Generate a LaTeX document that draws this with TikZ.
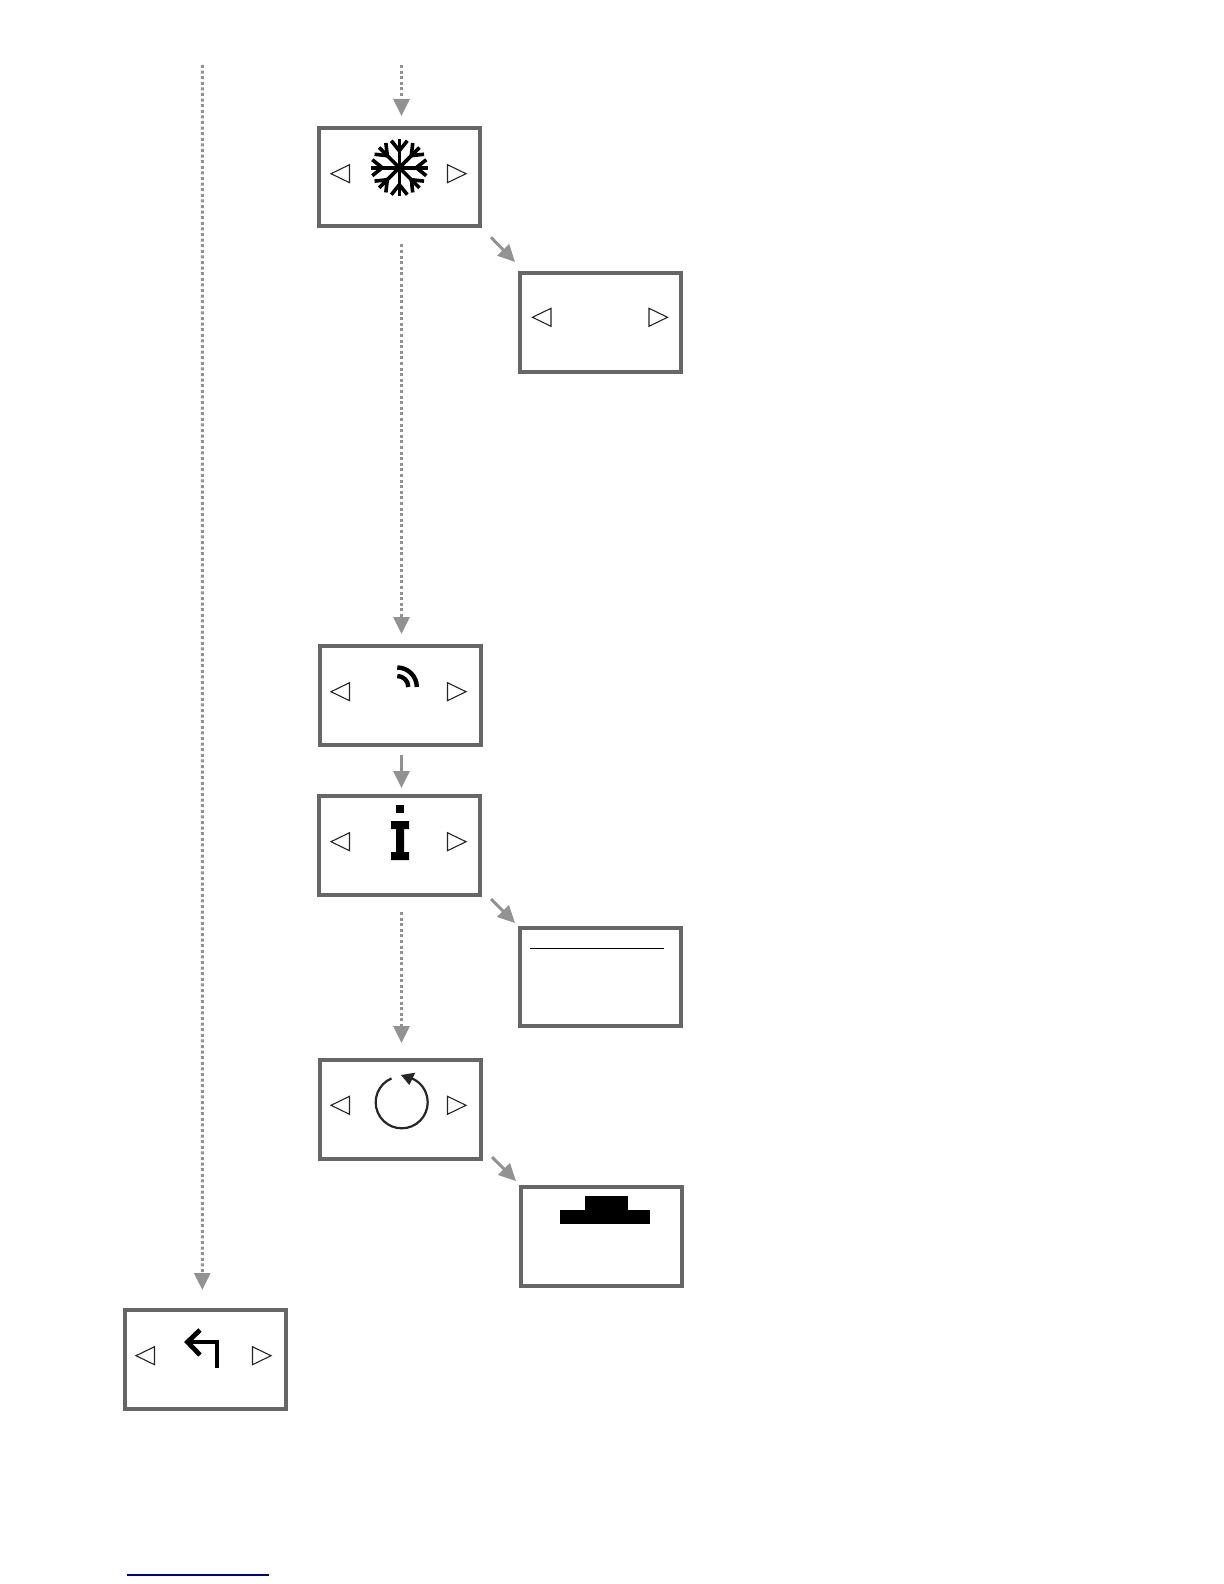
\documentclass[tikz,border=0pt]{standalone}
\usepackage{xcolor}
\usetikzlibrary{arrows.meta,positioning,calc}
\definecolor{FrameGrey}{HTML}{666666}
\definecolor{FlowGrey}{HTML}{929292}
\definecolor{TriDark}{HTML}{262626}
\definecolor{LinkNavy}{HTML}{000080}

\begin{document}
\begin{tikzpicture}[
  x=0.5pt,y=-0.5pt,
  screen/.style={draw=FrameGrey,line width=2pt,fill=white,rectangle,outer sep=0pt,inner sep=0pt,minimum width=80.5pt,minimum height=49.5pt},
  flow/.style={draw=FlowGrey,line width=1.5pt,-{Triangle[length=8.5pt,width=8pt,fill=FlowGrey]}},
  dotflow/.style={flow,dash pattern=on 1.5pt off 1.3pt},
  tri/.style={draw=TriDark,line width=0.55pt,line join=miter,fill=white},
  icon/.style={draw=black,line width=1.8pt}
]
\useasboundingbox (0,0) rectangle (1224,1584);
\node[screen,minimum height=48.9pt] (snow) at (399.5,176.9) {};
\node[screen] (wifi) at (400.5,695.5) {};
\node[screen] (info) at (399.5,845.5) {};
\node[screen] (reset) at (400.5,1109.5) {};
\node[screen] (back) at (205.5,1359.5) {};
\node[screen] (side) at (600.5,322.5) {};
\node[screen,minimum height=49pt] (rule) at (600.5,976.7) {};
\node[screen] (base) at (601.5,1236.5) {};
\coordinate (topin) at (401.5,65);
\coordinate (leftin) at (202.3,65);
\foreach \n/\dx/\dy in {snow/0/-3.2,side/0.5/-5.2,wifi/-1/-3.8,info/0/-3.8,reset/-1/-4.2,back/-1/-3.8}{
  \draw[tri] ([shift={(\dx-68.5,\dy)}]\n.center) -- ([shift={(\dx-50,\dy-9)}]\n.center) -- ([shift={(\dx-50,\dy+9)}]\n.center) -- cycle;
  \draw[tri] ([shift={(\dx+66.5,\dy)}]\n.center) -- ([shift={(\dx+48,\dy-9)}]\n.center) -- ([shift={(\dx+48,\dy+9)}]\n.center) -- cycle;
}
\draw[dotflow] (topin) -- ([shift={(2,-12)}]snow.north);
\draw[dotflow] (leftin) -- ([shift={(-3.2,-20)}]back.north);
\draw[dotflow] ([shift={(2,18.5)}]snow.south) -- ([shift={(1,-12)}]wifi.north);
\draw[flow] ([shift={(1,9.5)}]wifi.south) -- ([shift={(2,-8)}]info.north);
\draw[dotflow] ([shift={(2,17)}]info.south) -- ([shift={(1,-17)}]reset.north);
\draw[flow] ([shift={(11,11.5)}]snow.south east) -- ([shift={(-5,-11)}]side.north west);
\draw[flow] ([shift={(11,4)}]info.south east) -- ([shift={(-5,-4.7)}]rule.north west);
\draw[flow] ([shift={(11,-2)}]reset.south east) -- ([shift={(-5,-6)}]base.north west);
\foreach \a in {0,45,...,315}{
  \begin{scope}[shift={(399.3,167.7)},rotate=\a]
    \draw[icon] (0,0) -- (0,-28.5);
    \draw[icon] (-8,-27) -- (0,-17) -- (8,-27);
  \end{scope}
}
\draw[icon,line width=2.2pt] (397.3,667.5) arc (-90:0:19.5);
\draw[icon,line width=2.2pt] (397.3,676) arc (-90:0:11);
\fill[black] (396,805) rectangle (404,813);
\fill[black] (391,821) -- (409,821) -- (409,829) -- (404,829) -- (404,852) -- (409,852) -- (409,860) -- (391,860) -- (391,852) -- (396,852) -- (396,829) -- (391,829) -- cycle;
\draw[black,line width=0.6pt] (530,948.3) -- (664,948.3);
\draw[draw=TriDark,line width=1.1pt] (401.7,1102.3) ++(-113:26) arc (-113:-435:26);
\fill[TriDark] (401,1075) -- (415.3,1072.7) -- (409.3,1085) -- cycle;
\fill[black] (585,1196) rectangle (628,1210);
\fill[black] (560,1210) rectangle (650,1224);
\draw[icon,line width=2.4pt,line join=miter] (200,1330) -- (187.5,1342) -- (200,1355);
\draw[icon,line width=2.4pt,line join=miter] (187.5,1342) -- (217,1342) -- (217,1368);
\draw[LinkNavy,line width=0.6pt] (127,1575) -- (269,1575);
\end{tikzpicture}
\end{document}
